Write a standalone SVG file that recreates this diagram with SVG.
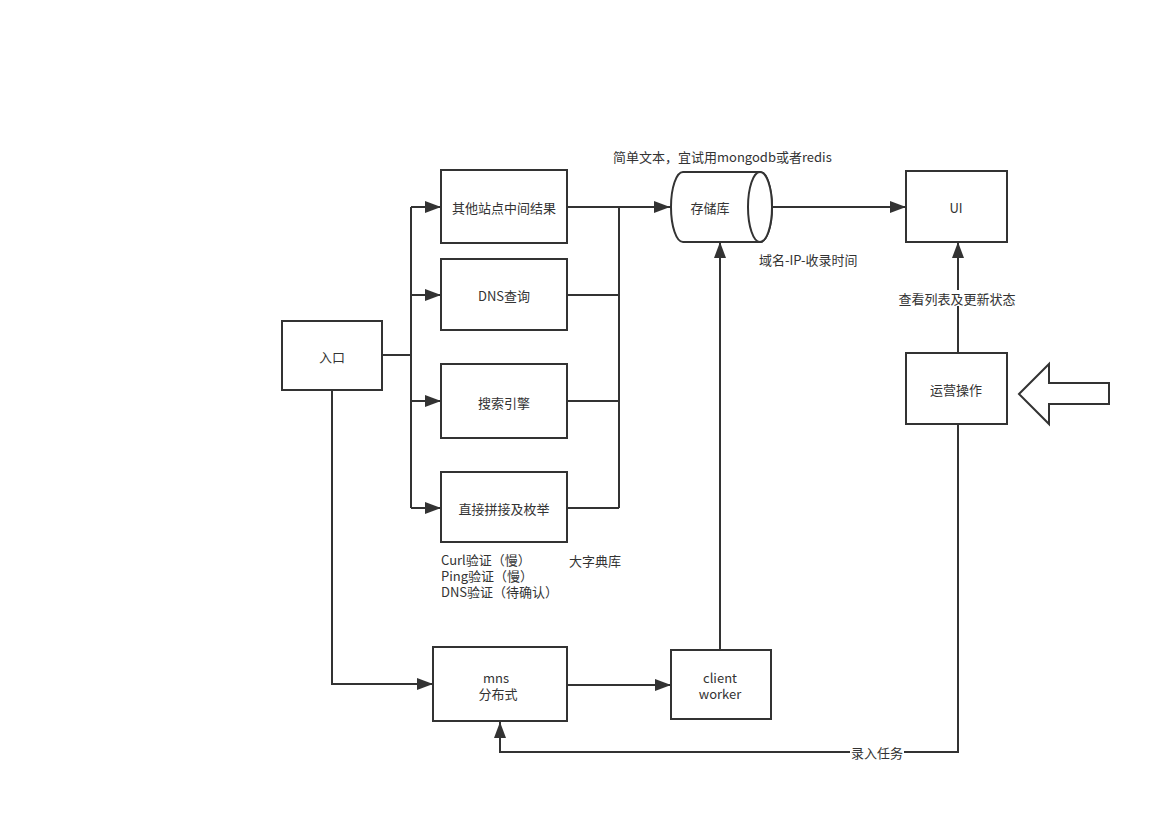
<svg xmlns="http://www.w3.org/2000/svg" width="1170" height="814" viewBox="0 0 1170 814">
<style>
.box{fill:#fff;stroke:#333;stroke-width:2}
.ln{fill:none;stroke:#333;stroke-width:2}
text{font-family:"Noto Sans CJK SC","Microsoft YaHei",sans-serif;font-size:13px;fill:#333}
.c{text-anchor:middle;dominant-baseline:central}
</style>
<defs>
<marker id="ah" viewBox="0 0 16 12" refX="16" refY="6" markerWidth="16" markerHeight="12" markerUnits="userSpaceOnUse" orient="auto">
<path d="M0,0 L16,6 L0,12 Z" fill="#333"/>
</marker>
</defs>
<rect width="1170" height="814" fill="#fff"/>
<g id="connectors">
<path class="ln" d="M382,355 H411"/>
<path class="ln" d="M411,207 V508"/>
<path class="ln" d="M411,207 H441" marker-end="url(#ah)"/>
<path class="ln" d="M411,295 H441" marker-end="url(#ah)"/>
<path class="ln" d="M411,401 H441" marker-end="url(#ah)"/>
<path class="ln" d="M411,508 H441" marker-end="url(#ah)"/>
<path class="ln" d="M567,295 H619 M567,401 H619 M567,508 H619 M619,207 V508"/>
<path class="ln" d="M567,207 H670" marker-end="url(#ah)"/>
<path class="ln" d="M771,207 H906" marker-end="url(#ah)"/>
<path class="ln" d="M958,353 V242" marker-end="url(#ah)"/>
<path class="ln" d="M332,390 V684 H433" marker-end="url(#ah)"/>
<path class="ln" d="M567,685 H671" marker-end="url(#ah)"/>
<path class="ln" d="M720,650 V242" marker-end="url(#ah)"/>
<path class="ln" d="M958,424 V752 H500 V722" marker-end="url(#ah)"/>
<rect x="850" y="744" width="54" height="16" fill="#fff"/>
<text x="877" y="752" class="c">录入任务</text>
<rect x="896" y="290" width="122" height="16" fill="#fff"/>
<text x="957" y="298" class="c">查看列表及更新状态</text>
</g>
<g id="entry"><rect class="box" x="282" y="321" width="100" height="69"/><text x="332" y="356" class="c">入口</text></g>
<g id="other"><rect class="box" x="441" y="170" width="126" height="73"/><text x="504" y="207" class="c">其他站点中间结果</text></g>
<g id="dns"><rect class="box" x="441" y="259" width="126" height="71"/><text x="504" y="295" class="c">DNS查询</text></g>
<g id="search"><rect class="box" x="441" y="364" width="126" height="74"/><text x="504" y="402" class="c">搜索引擎</text></g>
<g id="enum"><rect class="box" x="441" y="472" width="126" height="70"/><text x="504" y="508" class="c">直接拼接及枚举</text></g>
<g id="storage">
<path class="box" d="M683,172 H760 A12,35 0 0 1 760,242 H683 A12,35 0 0 1 683,172 Z"/>
<ellipse class="box" cx="760" cy="207" rx="12" ry="35"/>
<text x="710" y="207" class="c">存储库</text>
</g>
<g id="ui"><rect class="box" x="906" y="171" width="101" height="71"/><text x="956" y="207" class="c">UI</text></g>
<g id="ops"><rect class="box" x="906" y="353" width="101" height="71"/><text x="956" y="389" class="c">运营操作</text></g>
<g id="bigarrow"><path class="box" d="M1019,394 L1049,364 V383 H1109 V404 H1049 V424 Z"/></g>
<g id="mns"><rect class="box" x="433" y="647" width="134" height="74"/><text x="496" y="677" class="c">mns</text><text x="498" y="693" class="c">分布式</text></g>
<g id="worker"><rect class="box" x="671" y="650" width="100" height="69"/><text x="720" y="677" class="c">client</text><text x="720" y="693" class="c">worker</text></g>
<g id="notes">
<text x="613" y="156" dominant-baseline="central">简单文本，宜试用mongodb或者redis</text>
<text x="759" y="259" dominant-baseline="central">域名-IP-收录时间</text>
<text x="441" y="559" dominant-baseline="central">Curl验证（慢）</text>
<text x="441" y="575" dominant-baseline="central">Ping验证（慢）</text>
<text x="441" y="591" dominant-baseline="central">DNS验证（待确认）</text>
<text x="569" y="560" dominant-baseline="central">大字典库</text>
</g>
</svg>
